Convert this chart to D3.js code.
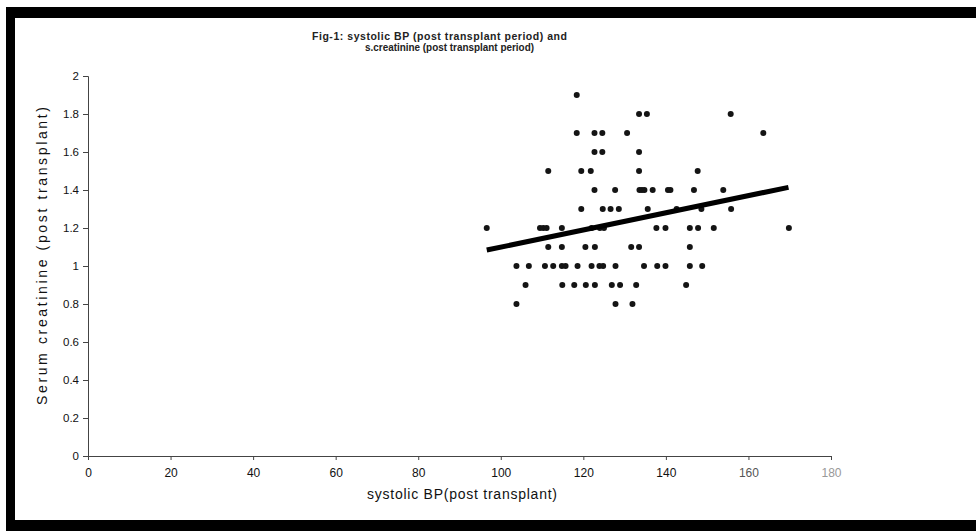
<!DOCTYPE html>
<html>
<head>
<meta charset="utf-8">
<script src="https://cdn.jsdelivr.net/npm/d3@7"></script>
<style>
  body { margin: 0; background: #fff; }
  svg { display: block; font-family: Arial, "Liberation Sans", sans-serif; }
</style>
</head>
<body>
<svg id="chart" width="976" height="531"></svg>
<script>
// systolic BP (x) and serum creatinine (y)
var bp = [
  118.4,
  133.5, 135.4, 155.7,
  118.4, 122.7, 124.6, 130.6, 163.6,
  122.7, 124.6, 133.5,
  111.5, 119.5, 121.8, 133.5, 147.7,
  122.7, 127.7, 133.6, 134.2, 134.8, 136.8, 140.5, 141.1, 146.8, 153.9,
  119.5, 124.7, 126.6, 128.6, 135.6, 142.6, 148.6, 155.8,
  96.6, 109.5, 110.3, 111.1, 114.8, 122.0, 124.0, 125.0, 137.7, 139.9, 145.8, 147.8, 151.6, 169.8,
  111.5, 114.8, 120.5, 122.8, 131.6, 133.5, 145.8,
  103.8, 106.8, 110.7, 112.7, 114.8, 115.7, 118.6, 122.0, 123.9, 124.8, 127.8, 134.7, 137.9, 139.9, 145.8, 148.8,
  106.0, 114.9, 117.8, 120.6, 122.8, 126.9, 128.9, 132.8, 144.9,
  103.8, 127.8, 131.9
];
var creatinine = [
  1.9,
  1.8, 1.8, 1.8,
  1.7, 1.7, 1.7, 1.7, 1.7,
  1.6, 1.6, 1.6,
  1.5, 1.5, 1.5, 1.5, 1.5,
  1.4, 1.4, 1.4, 1.4, 1.4, 1.4, 1.4, 1.4, 1.4, 1.4,
  1.3, 1.3, 1.3, 1.3, 1.3, 1.3, 1.3, 1.3,
  1.2, 1.2, 1.2, 1.2, 1.2, 1.2, 1.2, 1.2, 1.2, 1.2, 1.2, 1.2, 1.2, 1.2,
  1.1, 1.1, 1.1, 1.1, 1.1, 1.1, 1.1,
  1.0, 1.0, 1.0, 1.0, 1.0, 1.0, 1.0, 1.0, 1.0, 1.0, 1.0, 1.0, 1.0, 1.0, 1.0, 1.0,
  0.9, 0.9, 0.9, 0.9, 0.9, 0.9, 0.9, 0.9, 0.9,
  0.8, 0.8, 0.8
];

// trend line end points
var trendX = [96.6, 169.7];
var trendY = [1.084, 1.414];

var xTicks = [0, 20, 40, 60, 80, 100, 120, 140, 160, 180];
var yTicks = [0, 0.2, 0.4, 0.6, 0.8, 1, 1.2, 1.4, 1.6, 1.8, 2];

var titleLines = ["Fig-1:   systolic BP (post transplant period) and", "s.creatinine (post transplant period)"];
var xTitle = "systolic BP(post transplant)";
var yTitle = "Serum creatinine (post transplant)";

var svg = d3.select("#chart");

var x = d3.scaleLinear().domain([0, 180]).range([88, 831]);
var y = d3.scaleLinear().domain([0, 2]).range([456, 76]);

// white page with the heavy scanned frame
svg.append("rect").attr("width", 976).attr("height", 531).attr("fill", "#fff");
svg.append("rect").attr("x", 6).attr("y", 7).attr("width", 970).attr("height", 11).attr("fill", "#000");
svg.append("rect").attr("x", 6).attr("y", 7).attr("width", 9).attr("height", 524).attr("fill", "#000");
svg.append("rect").attr("x", 6).attr("y", 520).attr("width", 970).attr("height", 11).attr("fill", "#000");

// title
svg.append("text")
  .attr("x", 312).attr("y", 40)
  .attr("textLength", 255).attr("lengthAdjust", "spacing")
  .style("font-size", "10.5px").style("font-weight", "bold").attr("fill", "#222")
  .text(titleLines[0]);
svg.append("text")
  .attr("x", 365).attr("y", 51)
  .attr("textLength", 169).attr("lengthAdjust", "spacingAndGlyphs")
  .style("font-size", "10.5px").style("font-weight", "bold").attr("fill", "#222")
  .text(titleLines[1]);

// axes
var yAxis = svg.append("g")
  .attr("transform", "translate(88,0)")
  .call(d3.axisLeft(y).tickValues(yTicks).tickSize(5).tickPadding(4)
    .tickFormat(function (d) { return +d.toFixed(1); }));
yAxis.selectAll("text").style("font-size", "11.5px").attr("fill", "#111");

var xAxis = svg.append("g")
  .attr("transform", "translate(0,456)")
  .call(d3.axisBottom(x).tickValues(xTicks).tickSize(4).tickPadding(8));
xAxis.selectAll("text").style("font-size", "12px").attr("fill", function (d) {
  if (d === 180) return "#999";
  if (d === 160) return "#555";
  return "#111";
});
svg.selectAll(".domain").attr("stroke", "#444");
svg.selectAll(".tick line").attr("stroke", "#444");

// axis titles
svg.append("text")
  .attr("x", 367).attr("y", 499)
  .attr("textLength", 190).attr("lengthAdjust", "spacing")
  .style("font-size", "14px").attr("fill", "#111")
  .text(xTitle);
svg.append("text")
  .attr("transform", "translate(47,405) rotate(-90)")
  .attr("textLength", 298).attr("lengthAdjust", "spacing")
  .style("font-size", "14px").attr("fill", "#111")
  .text(yTitle);

// points
svg.append("g").selectAll("circle")
  .data(d3.range(bp.length))
  .join("circle")
  .attr("cx", function (i) { return x(bp[i]); })
  .attr("cy", function (i) { return y(creatinine[i]); })
  .attr("r", 3)
  .attr("fill", "#141414");

// regression line
svg.append("line")
  .attr("x1", x(trendX[0])).attr("y1", y(trendY[0]))
  .attr("x2", x(trendX[1])).attr("y2", y(trendY[1]))
  .attr("stroke", "#000").attr("stroke-width", 5);
</script>
</body>
</html>
